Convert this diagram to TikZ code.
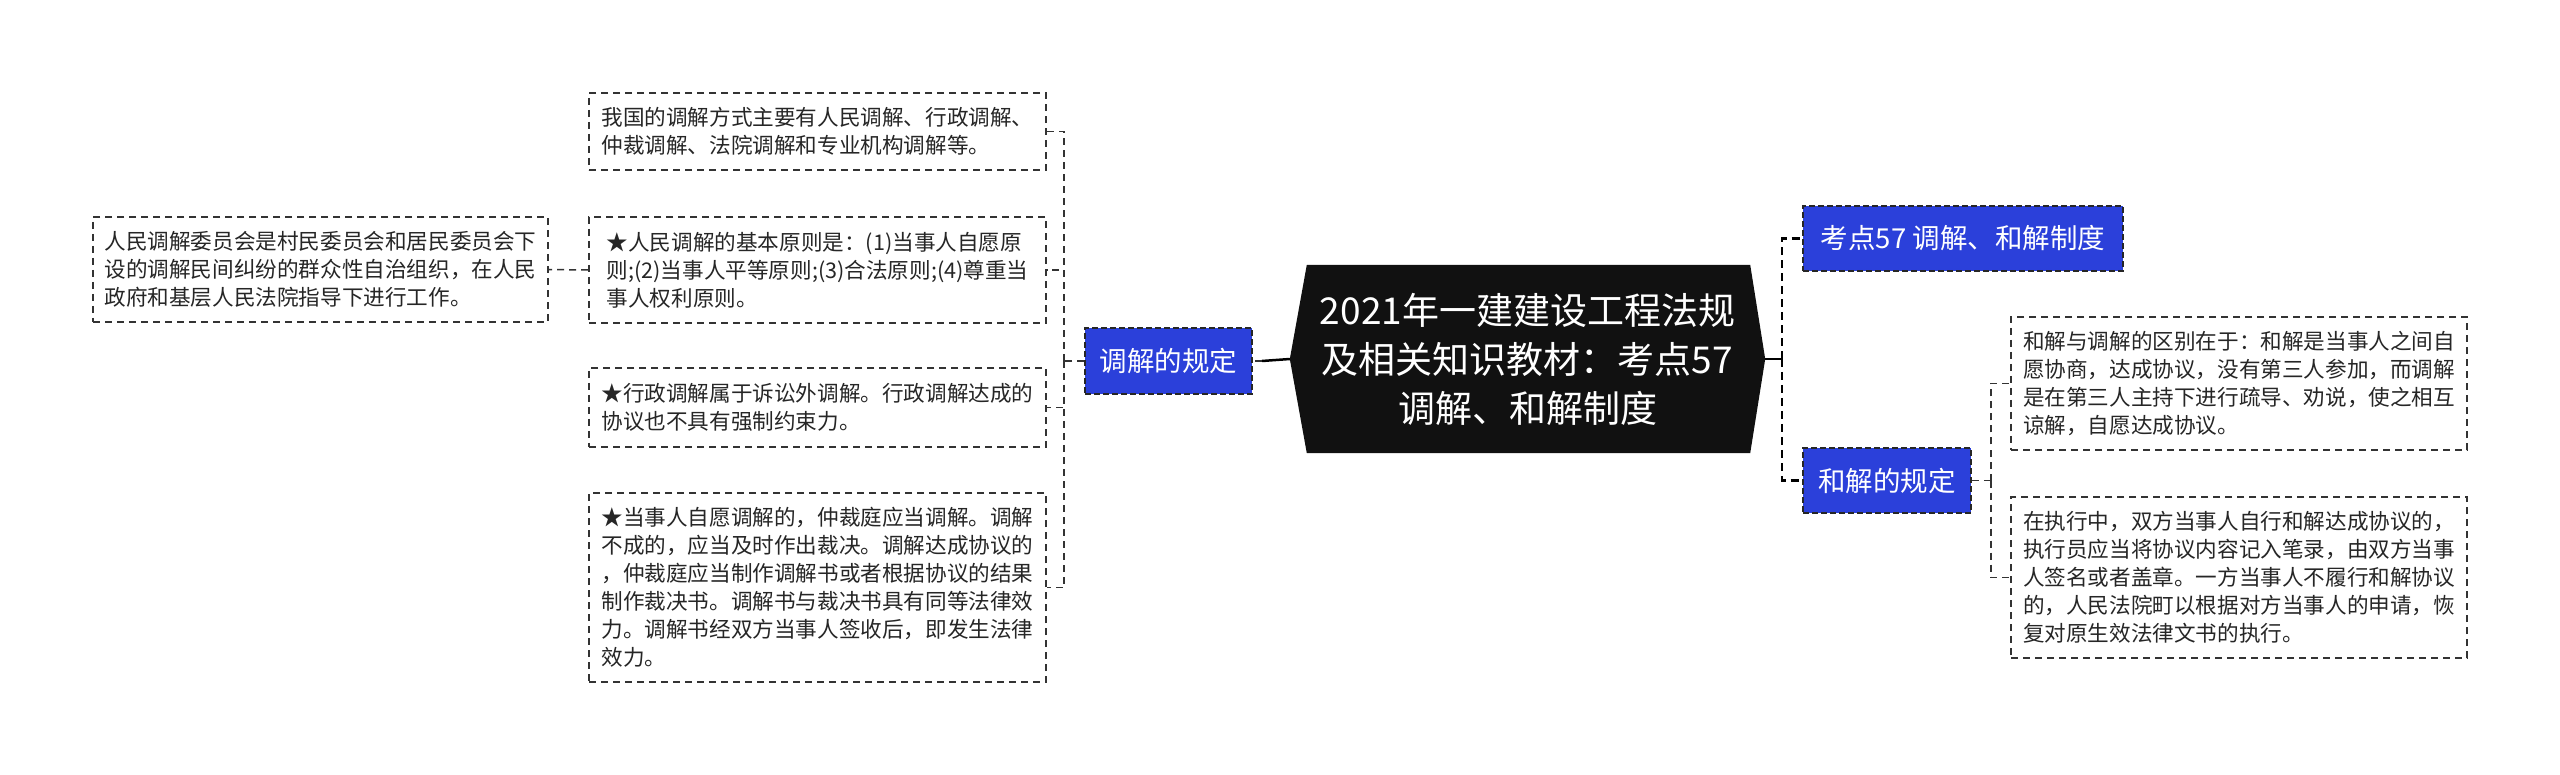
\documentclass[tikz,border=0pt]{standalone}
\usepackage{fontspec}
\setmainfont{Noto Sans CJK SC}
\usetikzlibrary{backgrounds}
\definecolor{nodeblue}{HTML}{2B40DA}
\definecolor{leafline}{HTML}{333333}
\definecolor{leaftext}{HTML}{262626}
\definecolor{rootfill}{HTML}{111111}
\begin{document}
\begin{tikzpicture}[x=1pt,y=-1pt,
  leaf/.style={draw=leafline, line width=1.8pt, dash pattern=on 7pt off 5pt, fill=white,
    text=leaftext, font=\fontsize{21.6}{28}\selectfont, align=left, inner sep=0pt,
    minimum width=457pt},
  bluebox/.style={draw=black!85, line width=1.8pt, dash pattern=on 6pt off 3pt, fill=nodeblue,
    text=white, font=\fontsize{27.5}{33}\selectfont, inner sep=0pt, minimum height=65pt},
  roottext/.style={text=white, font=\fontsize{37}{49}\selectfont, align=center, inner sep=0pt,
    minimum width=475pt, minimum height=188pt},
  link/.style={draw=leafline, line width=1.5pt, dash pattern=on 7pt off 5pt},
  mainlink/.style={draw=black, line width=2.5pt, dash pattern=on 8pt off 5pt},
  solidlink/.style={draw=black, line width=2.5pt},
]
\useasboundingbox (0,0) rectangle (2560,775);

% root
\node[roottext] (root) at (1527.5,359) {2021年一建建设工程法规\\及相关知识教材：考点57\\调解、和解制度};
\begin{pgfonlayer}{background}
  \fill[white] (0,0) rectangle (2560,775);
  \fill[rootfill] ([xshift=17pt]root.north west) -- ([xshift=-15pt]root.north east) -- (root.east)
    -- ([xshift=-15pt]root.south east) -- ([xshift=17pt]root.south west) -- (root.west) -- cycle;
\end{pgfonlayer}

% left branch
\node[bluebox, minimum width=167pt, minimum height=66pt] (b1) at (1168.5,361) {调解的规定};
\node[leaf, minimum height=77pt] (l1) at (817.5,131.5) {我国的调解方式主要有人民调解、行政调解、\\仲裁调解、法院调解和专业机构调解等。};
\node[leaf, minimum height=106pt] (l2) at (817.5,270) {★人民调解的基本原则是：(1)当事人自愿原\\则;(2)当事人平等原则;(3)合法原则;(4)尊重当\\事人权利原则。};
\node[leaf, minimum height=79pt] (l3) at (817.5,407.5) {★行政调解属于诉讼外调解。行政调解达成的\\协议也不具有强制约束力。};
\node[leaf, minimum height=189pt] (l4) at (817.5,587.5) {★当事人自愿调解的，仲裁庭应当调解。调解\\不成的，应当及时作出裁决。调解达成协议的\\，仲裁庭应当制作调解书或者根据协议的结果\\制作裁决书。调解书与裁决书具有同等法律效\\力。调解书经双方当事人签收后，即发生法律\\效力。};
\node[leaf, minimum width=455pt, minimum height=105pt] (l0) at (320.5,269.5) {人民调解委员会是村民委员会和居民委员会下\\设的调解民间纠纷的群众性自治组织，在人民\\政府和基层人民法院指导下进行工作。};

% right branch
\node[bluebox, minimum width=320pt] (b2) at (1963,238.5) {考点57 调解、和解制度};
\node[bluebox, minimum width=168pt] (b3) at (1887,480.5) {和解的规定};
\node[leaf, minimum width=456pt, minimum height=133pt] (r1) at (2239,383.5) {和解与调解的区别在于：和解是当事人之间自\\愿协商，达成协议，没有第三人参加，而调解\\是在第三人主持下进行疏导、劝说，使之相互\\谅解，自愿达成协议。};
\node[leaf, minimum width=456pt, minimum height=161pt] (r2) at (2239,577.5) {在执行中，双方当事人自行和解达成协议的，\\执行员应当将协议内容记入笔录，由双方当事\\人签名或者盖章。一方当事人不履行和解协议\\的，人民法院町以根据对方当事人的申请，恢\\复对原生效法律文书的执行。};

% connectors
\coordinate (jl) at (1064,361);
\coordinate (jlm) at (1262,361);
\draw[solidlink] (root.west) -- (jlm);
\draw[link] (jlm) -- (b1.east);
\draw[link] (b1.west) -- (jl);
\draw[link] (jl) |- (l1.east);
\draw[link] (jl) |- (l2.east);
\draw[link] (jl) |- (l3.east);
\draw[link] (jl) |- (l4.east);
\draw[link] (l2.west) -- (l0.east);

\coordinate (jr) at (1782,359);
\draw[solidlink] (root.east) -- (jr);
\draw[mainlink] (jr) |- (b2.west);
\draw[mainlink] (jr) |- (b3.west);

\coordinate (jr2) at (1991,480.5);
\draw[link] (b3.east) -- (jr2);
\draw[link] (jr2) |- (r1.west);
\draw[link] (jr2) |- (r2.west);
\end{tikzpicture}
\end{document}
